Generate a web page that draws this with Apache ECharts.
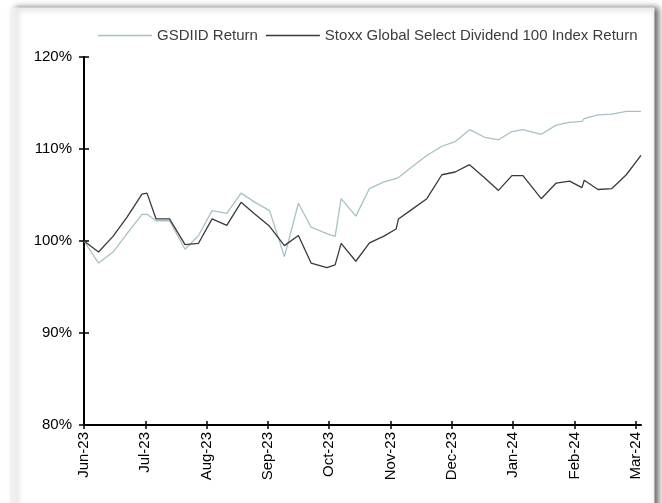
<!DOCTYPE html>
<html>
<head>
<meta charset="utf-8">
<script src="https://cdn.jsdelivr.net/npm/echarts@6/dist/echarts.min.js"></script>
<style>
html,body{margin:0;padding:0;background:#fff;}
#c{width:662px;height:503px;}
</style>
</head>
<body>
<div id="c"></div>
<script>
// Month tick labels (one per month, equally spaced)
var tickLabels = ['Jun-23','Jul-23','Aug-23','Sep-23','Oct-23','Nov-23','Dec-23','Jan-24','Feb-24','Mar-24'];
// Observation positions in month units from Jun-23 (0) to Mar-24 (9)
var monthPos = [0,0.237,0.473,0.702,0.946,1.028,1.175,1.395,1.648,1.868,2.089,2.329,2.562,2.790,3.027,3.269,3.497,3.704,3.961,4.096,4.194,4.434,4.656,4.884,5.091,5.129,5.320,5.592,5.837,6.054,6.288,6.527,6.761,6.979,7.159,7.458,7.702,7.920,8.122,8.159,8.383,8.611,8.845,9.085];
// GSDIID Return (%)
var gsdiid = [100,97.6,98.8,100.8,102.9,102.9,102.2,102.2,99.1,100.6,103.3,103.0,105.2,104.2,103.3,98.3,104.1,101.5,100.8,100.5,104.6,102.7,105.7,106.4,106.8,106.9,107.9,109.3,110.3,110.8,112.1,111.3,111.0,111.9,112.1,111.6,112.6,112.9,113.0,113.3,113.7,113.8,114.1,114.1];
// Stoxx Global Select Dividend 100 Index Return (%)
var stoxx = [100,98.8,100.5,102.6,105.1,105.2,102.4,102.4,99.6,99.75,102.4,101.7,104.2,102.9,101.6,99.5,100.6,97.6,97.1,97.4,99.75,97.8,99.8,100.5,101.3,102.4,103.3,104.6,107.2,107.5,108.3,106.9,105.5,107.1,107.1,104.6,106.3,106.5,105.8,106.6,105.6,105.7,107.2,109.3];

function pairs(v){ return monthPos.map(function(x,i){ return [x, v[i]]; }); }
var tickIdx = tickLabels.map(function(_,i){ return i; });
var FONT = "'Liberation Sans', Arial, sans-serif";
var FS = 15;

var chart = echarts.init(document.getElementById('c'), null, {renderer:'canvas'});
function xAx(inside, labels){
  return {
    type:'value', min:0, max:9.085, position:'bottom',
    axisLine:{show:labels, onZero:false, lineStyle:{color:'#000', width:2}},
    axisTick:{show:true, inside:inside, length:4, lineStyle:{color:'#000', width:1.5}, customValues:tickIdx},
    axisLabel:{show:labels, rotate:90, margin:7, color:'#000', fontSize:FS, fontFamily:FONT,
      customValues:tickIdx,
      formatter:function(v){ var i=Math.round(v); return tickLabels[i]||''; }},
    splitLine:{show:false}
  };
}
function yAx(inside, labels){
  return {
    type:'value', min:80, max:120, interval:10, position:'left',
    axisLine:{show:labels, onZero:false, lineStyle:{color:'#000', width:2}},
    axisTick:{show:true, inside:inside, length:5, lineStyle:{color:'#000', width:1.5}},
    axisLabel:{show:labels, margin:12, color:'#000', fontSize:FS, fontFamily:FONT,
      formatter:function(v){ return v + '%'; }},
    splitLine:{show:false}
  };
}
chart.setOption({
  animation:false,
  backgroundColor:'#fff',
  graphic:[{type:'rect', z:-10, shape:{x:12, y:8, width:642, height:600},
    style:{fill:'#fff', stroke:'#eeeeee', lineWidth:1, shadowBlur:6, shadowOffsetX:4, shadowOffsetY:0, shadowColor:'rgba(0,0,0,0.6)'}}],
  grid:{left:84, right:21, top:57, bottom:78, containLabel:false},
  legend:{
    left:93, top:23, itemWidth:54, itemHeight:1.3, itemGap:8, icon:'rect',
    textStyle:{color:'#3c3c3c', fontSize:FS, fontFamily:FONT},
    data:['GSDIID Return','Stoxx Global Select Dividend 100 Index Return']
  },
  xAxis:[xAx(false,true), xAx(true,false)],
  yAxis:[yAx(false,true), yAx(true,false)],
  series:[
    {name:'GSDIID Return', type:'line', data:pairs(gsdiid), symbol:'none', xAxisIndex:0, yAxisIndex:0,
      lineStyle:{color:'#a7c1c6', width:1.3}, itemStyle:{color:'#a7c1c6'}},
    {name:'Stoxx Global Select Dividend 100 Index Return', type:'line', data:pairs(stoxx), symbol:'none', xAxisIndex:0, yAxisIndex:0,
      lineStyle:{color:'#3a3a3a', width:1.3}, itemStyle:{color:'#3a3a3a'}}
  ]
});
</script>
</body>
</html>
